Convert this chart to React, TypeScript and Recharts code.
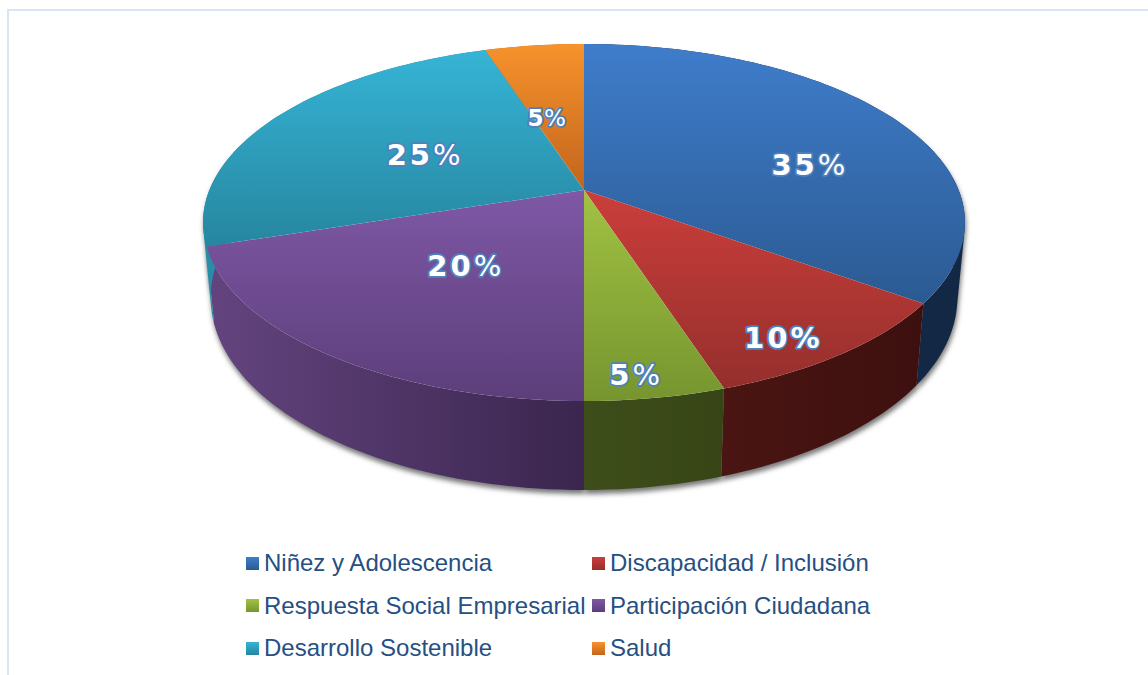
import { Legend, Pie, PieChart } from "recharts";

const NAMES = [
  "Niñez y Adolescencia",
  "Discapacidad / Inclusión",
  "Respuesta Social Empresarial",
  "Participación Ciudadana",
  "Desarrollo Sostenible",
  "Salud",
];
const SHARES = [35, 10, 5, 20, 25, 5];

const TOP_LIGHT = ["#3f7dcb", "#cb3e3b", "#a1c243", "#7f58a6", "#36b4d6", "#f7922c"];
const TOP_DARK = ["#2b5a92", "#952f2c", "#76952f", "#5c3e7a", "#26869f", "#c2651d"];
const WALL_LIGHT = ["#13294a", "#4a1512", "#3e4e1a", "#64447f", "#2a8ca8", "#c2651d"];
const WALL_DARK = ["#122845", "#3d100f", "#374516", "#3a264e", "#26869f", "#c2651d"];
const LABEL_NUDGE = [
  [20, 23],
  [41, 48],
  [9, 60],
  [40, -24],
  [47, 13],
  [-3, 27],
];

const data = NAMES.map((name, i) => ({ name, value: SHARES[i] }));

// the flat pie is seen in perspective: the circle goes through a homography
const APEX_X = 584;
const APEX_Y = 190;
const RADIUS = 374.6;
const Y_SCALE = 172.6 / 374.6;
const TILT = 0.182;
const WALL_DEPTH = 72.8;
const WALL_SHRINK = 0.98;

const DEG = Math.PI / 180;

type Pt = { x: number; y: number };

function project(angle: number, r: number): Pt {
  const u = r * Math.cos(angle * DEG);
  const v = r * Math.sin(angle * DEG);
  const w = 1 + TILT * v;
  return {
    x: APEX_X + (RADIUS * u) / w,
    y: APEX_Y - (RADIUS * Y_SCALE * v) / w,
  };
}

function lower(angle: number): Pt {
  const p = project(angle, 1);
  const w = 1 + TILT * Math.sin(angle * DEG);
  return {
    x: APEX_X + (p.x - APEX_X) * WALL_SHRINK,
    y: p.y + WALL_DEPTH / w,
  };
}

function sweep(start: number, end: number) {
  const steps = Math.max(2, Math.ceil(Math.abs(end - start) / 1.5));
  const out: number[] = [];
  for (let i = 0; i <= steps; i++) out.push(start + ((end - start) * i) / steps);
  return out;
}

const toPath = (pts: Pt[]) =>
  pts.map((p, i) => `${i ? "L" : "M"}${p.x.toFixed(2)} ${p.y.toFixed(2)}`).join(" ") + " Z";

function signedArea(pts: Pt[]) {
  let a = 0;
  pts.forEach((p, i) => {
    const q = pts[(i + 1) % pts.length];
    a += p.x * q.y - q.x * p.y;
  });
  return a;
}

// one quad per step, all wound the same way, so the silhouette edge is filled too
function wallPath(start: number, end: number) {
  const angles = sweep(start, end);
  const quads: string[] = [];
  for (let i = 0; i < angles.length - 1; i++) {
    const q = [project(angles[i], 1), project(angles[i + 1], 1), lower(angles[i + 1]), lower(angles[i])];
    quads.push(toPath(signedArea(q) < 0 ? q.reverse() : q));
  }
  return quads.join(" ");
}

function TopShape(props: any) {
  const i = NAMES.indexOf(props.name);
  const pts = sweep(props.startAngle, props.endAngle).map((a) => project(a, 1));
  return <path d={toPath([{ x: APEX_X, y: APEX_Y }, ...pts])} fill={`url(#top${i})`} />;
}

function WallShape(props: any) {
  const i = NAMES.indexOf(props.name);
  return <path d={wallPath(props.startAngle, props.endAngle)} fill={`url(#wall${i})`} />;
}

function ShadowShape(props: any) {
  return (
    <path
      d={wallPath(props.startAngle, props.endAngle)}
      fill="#777"
      transform="translate(1 4)"
      filter="url(#wallBlur)"
    />
  );
}

function renderLabel(props: any) {
  const i = NAMES.indexOf(props.name);
  const p = project(props.midAngle, 0.65);
  const small = i === 5;
  return (
    <text
      x={p.x + LABEL_NUDGE[i][0]}
      y={p.y + LABEL_NUDGE[i][1]}
      textAnchor="middle"
      dominantBaseline="central"
      fontFamily="DejaVu Sans"
      fontWeight="bold"
      fontSize={small ? 23 : 29}
      letterSpacing={small ? 0.5 : 3}
      fill="#ffffff"
      stroke="#4f81bd"
      strokeWidth={3.5}
      paintOrder="stroke"
      strokeLinejoin="round"
    >
      {props.value}
      <tspan fontWeight={i === 1 ? "bold" : "normal"}>%</tspan>
    </text>
  );
}

function renderLegend() {
  return (
    <div
      style={{
        display: "grid",
        gridTemplateColumns: "346px 346px",
        gridAutoRows: "42.5px",
        fontFamily: "Liberation Sans",
        fontSize: 24,
        color: "#264f82",
      }}
    >
      {NAMES.map((name, i) => (
        <div key={name} style={{ display: "flex", alignItems: "center", whiteSpace: "nowrap" }}>
          <span
            style={{
              width: 13,
              height: 13,
              marginRight: 5,
              background: `linear-gradient(${TOP_LIGHT[i]}, ${TOP_DARK[i]})`,
            }}
          />
          {name}
        </div>
      ))}
    </div>
  );
}

export default function App() {
  return (
    <div
      style={{
        position: "absolute",
        left: 0,
        top: 0,
        width: 1148,
        height: 675,
        background: "#fff",
        overflow: "hidden",
      }}
    >
      <div
        style={{
          position: "absolute",
          left: 7,
          top: 9,
          right: 0,
          bottom: 0,
          borderLeft: "2px solid #d8e5f3",
          borderTop: "2px solid #d8e5f3",
        }}
      />
      <PieChart width={1148} height={675} margin={{ top: 0, right: 0, bottom: 0, left: 0 }}>
        <defs>
          {NAMES.map((name, i) => (
            <linearGradient key={name} id={`top${i}`} x1="0" y1="0" x2="0" y2="1">
              <stop offset="0" stopColor={TOP_LIGHT[i]} />
              <stop offset="1" stopColor={TOP_DARK[i]} />
            </linearGradient>
          ))}
          {NAMES.map((name, i) => (
            <linearGradient key={name} id={`wall${i}`} x1="0" y1="0" x2="1" y2="0">
              <stop offset="0" stopColor={WALL_LIGHT[i]} />
              <stop offset="1" stopColor={WALL_DARK[i]} />
            </linearGradient>
          ))}
          <filter id="wallBlur" x="-10%" y="-10%" width="120%" height="120%">
            <feGaussianBlur stdDeviation="2.5" />
          </filter>
        </defs>
        <Pie
          data={data}
          dataKey="value"
          cx={APEX_X}
          cy={APEX_Y}
          outerRadius={RADIUS}
          startAngle={90}
          endAngle={-270}
          stroke="none"
          legendType="none"
          shape={ShadowShape}
          isAnimationActive={false}
        />
        <Pie
          data={data}
          dataKey="value"
          cx={APEX_X}
          cy={APEX_Y}
          outerRadius={RADIUS}
          startAngle={90}
          endAngle={-270}
          stroke="none"
          legendType="none"
          shape={WallShape}
          isAnimationActive={false}
        />
        <Pie
          data={data}
          dataKey="value"
          cx={APEX_X}
          cy={APEX_Y}
          outerRadius={RADIUS}
          startAngle={90}
          endAngle={-270}
          stroke="none"
          shape={TopShape}
          label={renderLabel}
          labelLine={false}
          isAnimationActive={false}
        />
        <Legend
          content={renderLegend}
          wrapperStyle={{ position: "absolute", left: 246, top: 542, width: 692, bottom: "auto" }}
        />
      </PieChart>
    </div>
  );
}
